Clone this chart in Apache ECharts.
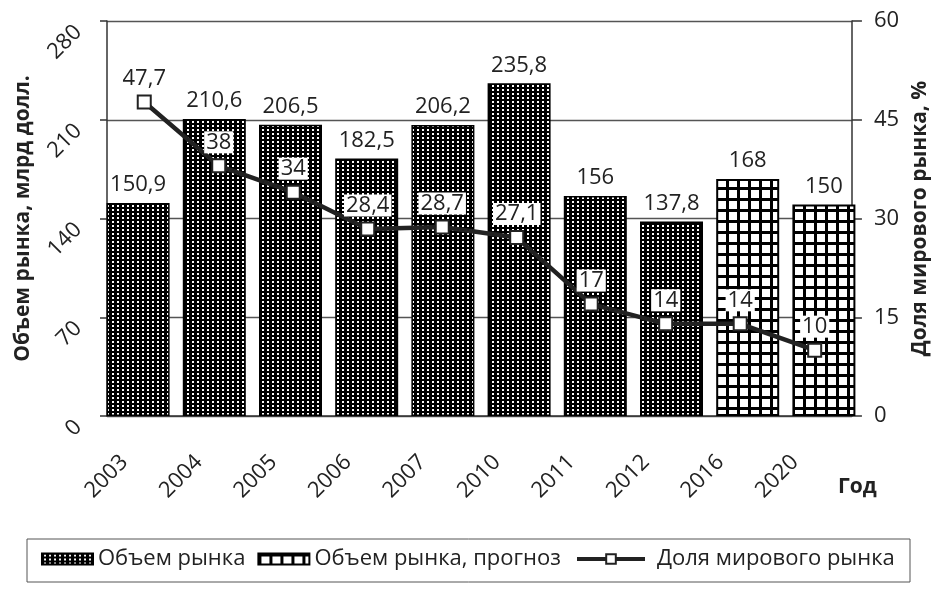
<!DOCTYPE html>
<html>
<head>
<meta charset="utf-8">
<script src="https://cdn.jsdelivr.net/npm/echarts@6/dist/echarts.min.js"></script>
<style>
  html, body { margin: 0; padding: 0; background: #fff; }
  #chart { width: 939px; height: 592px; }
</style>
</head>
<body>
<div id="chart"></div>
<script>
// данные
var years = ['2003', '2004', '2005', '2006', '2007', '2010', '2011', '2012', '2016', '2020'];
var volume = [150.9, 210.6, 206.5, 182.5, 206.2, 235.8, 156, 137.8, 168, 150];
var forecastYears = ['2016', '2020'];
var share = [47.7, 38, 34, 28.4, 28.7, 27.1, 17, 14, 14, 10];
var volumeTicks = [0, 70, 140, 210, 280];
var shareTicks = [0, 15, 30, 45, 60];

var FONT = '"Open Sans", "Noto Sans", sans-serif';
var INK = '#222';

// факт / прогноз
var volumeFact = volume.map(function (v, i) {
  return forecastYears.indexOf(years[i]) < 0 ? v : null;
});
var volumeForecast = volume.map(function (v, i) {
  return forecastYears.indexOf(years[i]) >= 0 ? v : null;
});

function comma(p) {
  return String(p.value).replace('.', ',');
}

// штриховка: черный фон с белыми точками
function dotPattern() {
  var c = document.createElement('canvas');
  c.width = 5; c.height = 4;
  var g = c.getContext('2d');
  g.fillStyle = '#000';
  g.fillRect(0, 0, 5, 4);
  g.fillStyle = '#fff';
  g.fillRect(2, 1, 2, 2);
  return c;
}

// штриховка: клетка
function gridPattern() {
  var c = document.createElement('canvas');
  c.width = 11; c.height = 11;
  var g = c.getContext('2d');
  g.fillStyle = '#fff';
  g.fillRect(0, 0, 11, 11);
  g.fillStyle = '#000';
  g.fillRect(0, 0, 11, 3);
  g.fillRect(0, 0, 3, 11);
  return c;
}

var chart = echarts.init(document.getElementById('chart'));

var labelFont = { fontSize: 22, color: INK, fontFamily: FONT };

var option = {
  animation: false,
  backgroundColor: '#fff',
  textStyle: { fontFamily: FONT, color: INK },
  grid: [
    { left: 107, right: 83, top: 21, bottom: 176 },
    { left: 100, right: 77, top: 21, bottom: 176 }  // сетка для столбцов
  ],
  xAxis: [
    {
      type: 'category',
      gridIndex: 0,
      data: years,
      boundaryGap: true,
      axisLine: { lineStyle: { color: '#333', width: 1.5 } },
      axisTick: { length: 9, lineStyle: { color: '#333', width: 1.5 } },
      axisLabel: Object.assign({
        interval: 0,
        rotate: 45,
        margin: 23,
        padding: [0, 28, 0, 0]
      }, labelFont)
    },
    { type: 'category', gridIndex: 1, data: years, show: false }
  ],
  yAxis: [
    {
      type: 'value',
      gridIndex: 0,
      position: 'left',
      min: volumeTicks[0],
      max: volumeTicks[volumeTicks.length - 1],
      interval: volumeTicks[1] - volumeTicks[0],
      name: 'Объем рынка, млрд долл.',
      nameLocation: 'middle',
      nameRotate: 90,
      nameGap: 72,
      nameTextStyle: { fontSize: 21, fontWeight: 'bold', color: INK, fontFamily: FONT },
      axisLine: { show: true, lineStyle: { color: '#333', width: 1.5 } },
      axisTick: { show: true, length: 7, lineStyle: { color: '#333', width: 1.5 } },
      splitLine: { show: true, lineStyle: { color: '#555', width: 1.3 } },
      axisLabel: Object.assign({
        rotate: 45,
        margin: 21,
        padding: [0, 11, 0, 0]
      }, labelFont)
    },
    {
      type: 'value',
      gridIndex: 0,
      position: 'right',
      min: shareTicks[0],
      max: shareTicks[shareTicks.length - 1],
      interval: shareTicks[1] - shareTicks[0],
      name: 'Доля мирового рынка, %',
      nameLocation: 'middle',
      nameRotate: 90,
      nameGap: 57,
      nameTextStyle: { fontSize: 21, fontWeight: 'bold', color: INK, fontFamily: FONT },
      axisLine: { show: true, lineStyle: { color: '#333', width: 1.5 } },
      axisTick: { show: true, length: 10, lineStyle: { color: '#333', width: 1.5 } },
      splitLine: { show: false },
      axisLabel: Object.assign({ margin: 22 }, labelFont)
    },
    {
      type: 'value',
      gridIndex: 1,
      min: volumeTicks[0],
      max: volumeTicks[volumeTicks.length - 1],
      show: false
    }
  ],
  legend: [
    {
      left: 41,
      top: 548,
      padding: 0,
      itemWidth: 51,
      itemHeight: 11,
      itemGap: 12,
      textStyle: labelFont,
      data: [
        { name: 'Объем рынка', icon: 'rect' },
        { name: 'Объем рынка, прогноз', icon: 'rect' }
      ]
    },
    {
      left: 575,
      top: 548,
      padding: 0,
      itemWidth: 68,
      itemHeight: 12,
      textStyle: Object.assign({ padding: [0, 0, 0, 7] }, labelFont),
      data: [
        {
          name: 'Доля мирового рынка',
          lineStyle: { color: '#222', width: 4 },
          itemStyle: { color: '#fff', borderColor: '#222', borderWidth: 2 }
        }
      ]
    }
  ],
  graphic: [
    {
      type: 'rect',
      shape: { x: 27, y: 539, width: 883, height: 43 },
      style: { fill: 'none', stroke: '#555', lineWidth: 1 }
    },
    {
      type: 'text',
      left: 838,
      top: 477,
      style: { text: 'Год', font: 'bold 21px ' + FONT, fill: INK }
    }
  ],
  series: [
    {
      name: 'Объем рынка',
      type: 'bar',
      xAxisIndex: 1,
      yAxisIndex: 2,
      data: volumeFact,
      barWidth: 63,
      barGap: '-100%',
      itemStyle: {
        color: { image: dotPattern(), repeat: 'repeat' },
        borderColor: '#000',
        borderWidth: 1.5
      },
      label: Object.assign({ show: true, position: 'top', distance: 7, formatter: comma }, labelFont)
    },
    {
      name: 'Объем рынка, прогноз',
      type: 'bar',
      xAxisIndex: 1,
      yAxisIndex: 2,
      data: volumeForecast,
      barWidth: 63,
      barGap: '-100%',
      itemStyle: {
        color: { image: gridPattern(), repeat: 'repeat' },
        borderColor: '#000',
        borderWidth: 2
      },
      label: Object.assign({ show: true, position: 'top', distance: 7, formatter: comma }, labelFont)
    },
    {
      name: 'Доля мирового рынка',
      type: 'line',
      xAxisIndex: 0,
      yAxisIndex: 1,
      z: 5,
      data: share,
      symbol: 'rect',
      symbolSize: 13,
      lineStyle: { color: '#222', width: 4.5 },
      itemStyle: { color: '#fff', borderColor: '#222', borderWidth: 2 },
      label: Object.assign({
        show: true,
        position: 'top',
        distance: 5,
        formatter: comma,
        backgroundColor: '#fff',
        padding: [0, 2]
      }, labelFont)
    }
  ]
};

chart.setOption(option);
</script>
</body>
</html>
